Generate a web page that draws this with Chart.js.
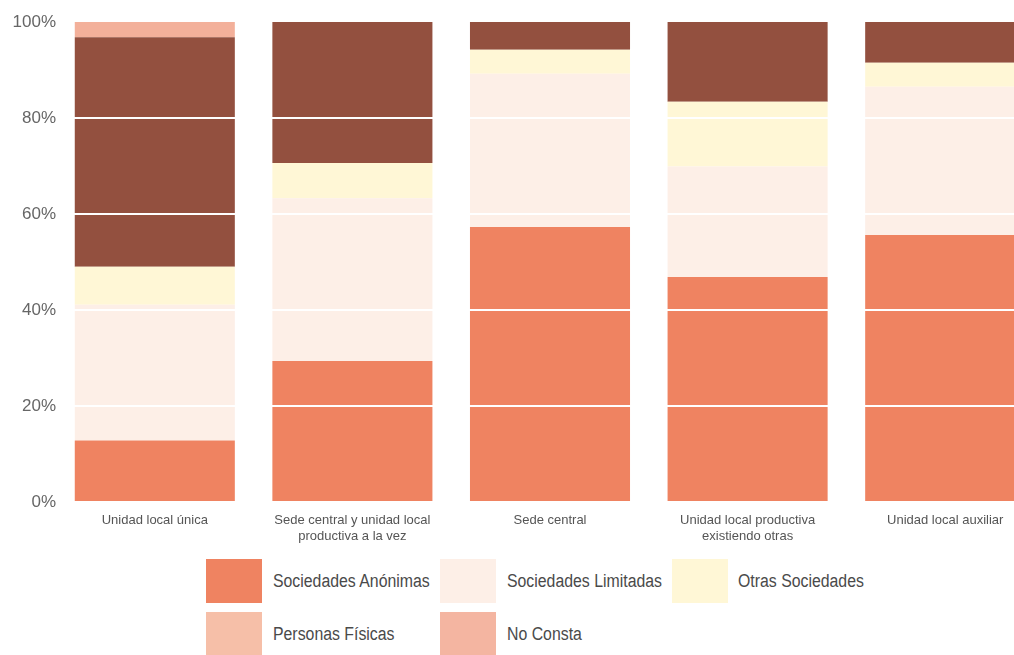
<!DOCTYPE html>
<html>
<head>
<meta charset="utf-8">
<script src="https://cdn.jsdelivr.net/npm/chart.js@4/dist/chart.umd.min.js"></script>
<style>
  html, body { margin: 0; padding: 0; background: #ffffff; overflow: hidden; }
  #wrap { position: relative; width: 1014px; height: 655px; overflow: hidden; background: #fff; }
  #c { position: absolute; left: 0; top: 0; }
  .lg { position: absolute; font-family: "Liberation Sans Narrow", "Liberation Sans", Arial, sans-serif; font-size: 18px; color: #4a4a4a; }
  .lg .box { position: absolute; width: 56px; height: 44px; }
  .lg .txt { position: absolute; white-space: nowrap; line-height: 44px; transform: scaleX(0.88); transform-origin: 0 50%; }
</style>
</head>
<body>
<div id="wrap">
  <canvas id="c" width="1044" height="548"></canvas>
  <div id="legend"></div>
</div>
<script>
// ---- data ----
const categories = [
  ["Unidad local única"],
  ["Sede central y unidad local", "productiva a la vez"],
  ["Sede central"],
  ["Unidad local productiva", "existiendo otras"],
  ["Unidad local auxiliar"]
];
const seriesNames = ["Sociedades Anónimas", "Sociedades Limitadas", "Otras Sociedades", "Personas Físicas", "No Consta"];
const sociedadesAnonimas  = [12.8, 29.4, 57.3, 46.9, 55.6];
const sociedadesLimitadas = [28.3, 33.9, 31.9, 23.0, 30.9];
const otrasSociedades     = [7.9, 7.3, 5.0, 13.5, 5.0];
const personasFisicas     = [47.8, 29.4, 5.8, 16.6, 8.5];
const noConsta            = [3.2, 0, 0, 0, 0];
const yTicks = [0, 20, 40, 60, 80, 100];

// ---- styles ----
const barColors    = ["#EF8361", "#FDEFE7", "#FFF7D6", "#93503F", "#F3B09A"];
const legendColors = ["#EF8361", "#FDEFE7", "#FFF7D6", "#F6BFA8", "#F4B5A1"];
const seriesData = [sociedadesAnonimas, sociedadesLimitadas, otrasSociedades, personasFisicas, noConsta];

const narrow = '"Liberation Sans Narrow", "Liberation Sans", Arial, sans-serif';

new Chart(document.getElementById('c'), {
  type: 'bar',
  data: {
    labels: categories,
    datasets: seriesNames.map((n, i) => ({
      label: n,
      data: seriesData[i],
      backgroundColor: barColors[i],
      borderWidth: 0,
      barPercentage: 0.81,
      categoryPercentage: 1.0
    }))
  },
  options: {
    responsive: false,
    animation: false,
    devicePixelRatio: 1,
    layout: { padding: { top: 22, left: 0, right: 0, bottom: 0 } },
    plugins: { legend: { display: false }, tooltip: { enabled: false } },
    scales: {
      x: {
        stacked: true,
        grid: { display: false, drawTicks: false },
        border: { display: false },
        ticks: {
          autoSkip: false, maxRotation: 0, minRotation: 0,
          color: '#555555', padding: 11,
          font: { family: narrow, size: 13 }
        },
        afterFit: s => { s.height = 46; }
      },
      y: {
        stacked: true,
        min: 0, max: 100,
        afterBuildTicks: s => { s.ticks = yTicks.map(v => ({ value: v })); },
        grid: {
          z: 1,
          drawTicks: false,
          lineWidth: 2,
          color: ctx => (ctx.tick && (ctx.tick.value === 0 || ctx.tick.value === 100)) ? 'rgba(0,0,0,0)' : '#ffffff'
        },
        border: { display: false },
        ticks: {
          color: '#666666', padding: 0,
          font: { family: '"Liberation Sans", Arial, sans-serif', size: 17 },
          callback: v => v + '%'
        },
        afterFit: s => { s.width = 56; }
      }
    }
  }
});

// ---- HTML legend ----
const legendPos = [
  { bx: 206, tx: 273, y: 559 },
  { bx: 440, tx: 507, y: 559 },
  { bx: 672, tx: 738, y: 559 },
  { bx: 206, tx: 273, y: 612 },
  { bx: 440, tx: 507, y: 612 }
];
const lg = document.getElementById('legend');
seriesNames.forEach((n, i) => {
  const p = legendPos[i];
  const item = document.createElement('div');
  item.className = 'lg';
  item.style.left = '0px'; item.style.top = p.y + 'px';
  const b = document.createElement('div');
  b.className = 'box'; b.style.left = p.bx + 'px'; b.style.top = '0px';
  b.style.background = legendColors[i];
  const t = document.createElement('div');
  t.className = 'txt'; t.style.left = p.tx + 'px'; t.style.top = '0px';
  t.textContent = n;
  item.appendChild(b); item.appendChild(t);
  lg.appendChild(item);
});
</script>
</body>
</html>
